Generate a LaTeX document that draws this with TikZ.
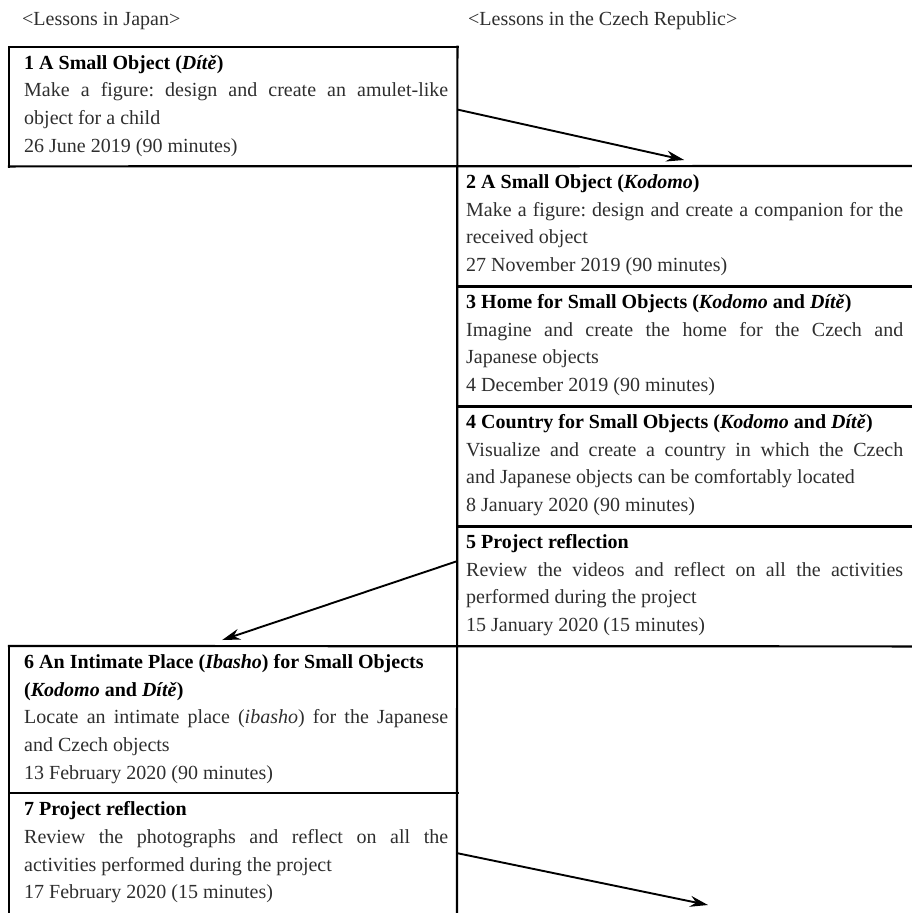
\documentclass[tikz,border=0pt]{standalone}
\usepackage{fontspec}
\setmainfont{Liberation Serif}
\usetikzlibrary{arrows.meta,calc}
\hyphenpenalty=10000
\exhyphenpenalty=10000
\frenchspacing
\definecolor{bodytxt}{gray}{0.18}
\newcommand{\ttl}[1]{\textcolor{black}{\textbf{#1}}}
\begin{document}
\begin{tikzpicture}[x=1pt,y=-1pt,
  grid/.style={line width=2.2pt, line cap=rect},
  conn/.style={line width=1.9pt, -{Stealth[length=18pt,width=11pt,inset=6pt]}},
  cell/.style={anchor=north west, inner sep=0pt, minimum width=#1, draw=none},
  body/.style={anchor=north west, inner sep=0pt, text width=#1, align=justify,
    text=bodytxt, font=\fontsize{20}{27.7}\selectfont\frenchspacing},
  head/.style={anchor=west, inner sep=0pt, text=bodytxt, font=\fontsize{20}{27.7}\selectfont},
]
\useasboundingbox (0,0) rectangle (911,913);
% cells
\node[cell=448pt, minimum height=119.3pt] (b1) at (9,46.7) {};
\node[cell=454pt, minimum height=120pt] (b2) at (457,166) {};
\node[cell=454pt, minimum height=120pt] (b3) at (457,286) {};
\node[cell=454pt, minimum height=120pt] (b4) at (457,406) {};
\node[cell=454pt, minimum height=120pt] (b5) at (457,526) {};
\node[cell=448pt, minimum height=147pt] (b6) at (9,646) {};
\node[cell=448pt, minimum height=120pt] (b7) at (9,793) {};
\coordinate (colbot) at (457,913);
\coordinate (leftbot) at (9,913);
% grid lines
\draw[grid] (b1.south west) -- (b1.north west) -- (b1.north east);
\draw[grid] (b1.north east) -- (colbot);
\draw[grid] (b1.south west) -- (b2.north east);
\draw[grid] (b2.south west) -- (b2.south east);
\draw[grid] (b3.south west) -- (b3.south east);
\draw[grid] (b4.south west) -- (b4.south east);
\draw[grid] (b6.north west) -- (b5.south east);
\draw[grid] (b6.north west) -- (leftbot);
\draw[grid] (b7.north west) -- (b7.north east);
% headers
\node[head] (hj) at (22,21) {<Lessons in Japan>};
\node[head] (hc) at (468,21) {<Lessons in the Czech Republic>};
% texts
\node[body=424pt] (t1) at ($(b1.north west)+(15,3)$) {\noindent\strut\ttl{1 A Small Object (\textit{Dítě})}\newline
Make a figure: design and create an amulet-like\linebreak object for a child\newline
26 June 2019 (90 minutes)};
\node[body=437pt] (t2) at ($(b2.north west)+(9,3)$) {\noindent\strut\ttl{2 A Small Object (\textit{Kodomo})}\newline
Make a figure: design and create a companion for the\linebreak received object\newline
27 November 2019 (90 minutes)};
\node[body=437pt] (t3) at ($(b3.north west)+(9,3)$) {\noindent\strut\mbox{\ttl{3 Home for Small Objects (\textit{Kodomo} and \textit{Dítě})}}\newline
Imagine and create the home for the Czech and\linebreak Japanese objects\newline
4 December 2019 (90 minutes)};
\node[body=437pt] (t4) at ($(b4.north west)+(9,3)$) {\noindent\strut\mbox{\ttl{4 Country for Small Objects (\textit{Kodomo} and \textit{Dítě})}}\newline
Visualize and create a country in which the Czech\linebreak and Japanese objects can be comfortably located\newline
8 January 2020 (90 minutes)};
\node[body=437pt] (t5) at ($(b5.north west)+(9,3)$) {\noindent\strut\ttl{5 Project reflection}\newline
Review the videos and reflect on all the activities\linebreak performed during the project\newline
15 January 2020 (15 minutes)};
\node[body=424pt] (t6) at ($(b6.north west)+(15,3)$) {\noindent\strut\mbox{\ttl{6 An Intimate Place (\textit{Ibasho}) for Small Objects}}\newline
\ttl{(\textit{Kodomo} and \textit{Dítě})}\newline
Locate an intimate place (\textit{ibasho}) for the Japanese\linebreak and Czech objects\newline
13 February 2020 (90 minutes)};
\node[body=424pt] (t7) at ($(b7.north west)+(15,3)$) {\noindent\strut\ttl{7 Project reflection}\newline
Review the photographs and reflect on all the\linebreak activities performed during the project\newline
17 February 2020 (15 minutes)};
% connectors
\coordinate (a1s) at ($(b1.east)+(0,3)$);
\coordinate (a1e) at ($(b2.north)+(0,-6)$);
\coordinate (a2s) at ($(b5.west)+(0,-25)$);
\coordinate (a2e) at ($(b6.north)+(-11,-6)$);
\coordinate (a3e) at (708,905);
\draw[conn] (a1s) -- (a1e);
\draw[conn] (a2s) -- (a2e);
\draw[conn] (b7.east) -- (a3e);
\end{tikzpicture}
\end{document}
